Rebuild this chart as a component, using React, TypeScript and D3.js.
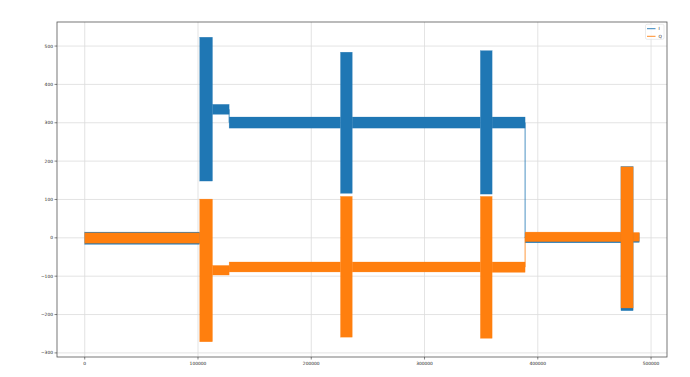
import React from 'react';
import * as d3 from 'd3';

// sample index where the signal changes regime
const breaks = [0, 101500, 112800, 127500, 225800, 236200, 349300, 359700, 388800, 473400, 484200, 489600];
// envelope (min / max) of I for each regime
const iLow = [-17, 148, 322, 286, 116, 286, 114, 286, -13, -190, -12];
const iHigh = [15, 523, 348, 315, 484, 315, 488, 315, 12, 186, 12];
// envelope (min / max) of Q for each regime
const qLow = [-14, -271, -97, -89, -259, -89, -262, -90, -10, -183, -9];
const qHigh = [13, 101, -72, -63, 108, -63, 108, -63, 15, 185, 14];

const xTicks = [0, 100000, 200000, 300000, 400000, 500000];
const yTicks = [-300, -200, -100, 0, 100, 200, 300, 400, 500];
const seriesNames = ['I', 'Q'];
const seriesColors = ['#1f77b4', '#ff7f0e'];

const W = 690, H = 377;
const L = 57, R = 667, T = 22, B = 357;

type Seg = { x0: number; x1: number; lo: number; hi: number };

function buildSegs(lo: number[], hi: number[]): Seg[] {
  return lo.map((v, i) => ({ x0: breaks[i], x1: breaks[i + 1], lo: v, hi: hi[i] }));
}

// vertical connectors where a quiet regime switches to another quiet regime
function connectors(lo: number[], hi: number[]) {
  const out: { x: number; a: number; b: number }[] = [];
  for (let k = 1; k < lo.length; k++) {
    const narrowPrev = hi[k - 1] - lo[k - 1] < 100;
    const narrowNext = hi[k] - lo[k] < 100;
    if (narrowPrev && narrowNext) {
      out.push({ x: breaks[k], a: (lo[k - 1] + hi[k - 1]) / 2, b: (lo[k] + hi[k]) / 2 });
    }
  }
  return out;
}

export default function App() {
  const xMin = 0, xMax = breaks[breaks.length - 1];
  const allLo = [...iLow, ...qLow], allHi = [...iHigh, ...qHigh];
  const yMin = d3.min(allLo)!, yMax = d3.max(allHi)!;
  const xm = (xMax - xMin) * 0.05, ym = (yMax - yMin) * 0.05;
  const x = d3.scaleLinear().domain([xMin - xm, xMax + xm]).range([L, R]);
  const y = d3.scaleLinear().domain([yMin - ym, yMax + ym]).range([B, T]);

  const series = [
    { segs: buildSegs(iLow, iHigh), con: connectors(iLow, iHigh) },
    { segs: buildSegs(qLow, qHigh), con: connectors(qLow, qHigh) },
  ];
  const font = 'DejaVu Sans, sans-serif';
  const fs = 4.4;

  return (
    <svg width={W} height={H} style={{ position: 'absolute', left: 0, top: 0, background: '#fff' }}>
      <rect x={0} y={0} width={W} height={H} fill="#fff" />
      <defs>
        <clipPath id="plot">
          <rect x={L} y={T} width={R - L} height={B - T} />
        </clipPath>
      </defs>
      {xTicks.map(t => (
        <line key={'gx' + t} x1={x(t)} x2={x(t)} y1={T} y2={B} stroke="#dcdcdc" strokeWidth={0.8} />
      ))}
      {yTicks.map(t => (
        <line key={'gy' + t} x1={L} x2={R} y1={y(t)} y2={y(t)} stroke="#dcdcdc" strokeWidth={0.8} />
      ))}
      <g clipPath="url(#plot)">
        {series.map((s, i) => (
          <g key={i}>
            {s.segs.map((d, j) => (
              <rect key={j} x={x(d.x0)} y={y(d.hi)} width={x(d.x1) - x(d.x0)} height={y(d.lo) - y(d.hi)}
                fill={seriesColors[i]} stroke={seriesColors[i]} strokeWidth={0.4} strokeOpacity={0.6} />
            ))}
            {s.con.map((c, j) => (
              <line key={j} x1={x(c.x)} x2={x(c.x)} y1={y(c.a)} y2={y(c.b)} stroke={seriesColors[i]} strokeWidth={0.8} />
            ))}
          </g>
        ))}
      </g>
      <rect x={L} y={T} width={R - L} height={B - T} fill="none" stroke="#555" strokeWidth={0.8} />
      {xTicks.map(t => (
        <g key={'tx' + t}>
          <line x1={x(t)} x2={x(t)} y1={B} y2={B + 2.5} stroke="#333" strokeWidth={0.6} />
          <text x={x(t)} y={B + 8} fontSize={fs} fontFamily={font} textAnchor="middle" fill="#222">{t}</text>
        </g>
      ))}
      {yTicks.map(t => (
        <g key={'ty' + t}>
          <line x1={L - 2.5} x2={L} y1={y(t)} y2={y(t)} stroke="#333" strokeWidth={0.6} />
          <text x={L - 4} y={y(t) + 1.6} fontSize={fs} fontFamily={font} textAnchor="end" fill="#222">
            {t < 0 ? '\u2212' + Math.abs(t) : t}
          </text>
        </g>
      ))}
      <g transform={`translate(${R - 21.5},${T + 2.3})`}>
        <rect x={0} y={0} width={18.5} height={15} rx={1.5} fill="#fff" fillOpacity={0.8} stroke="#ddd" strokeWidth={0.6} />
        {seriesNames.map((n, i) => (
          <g key={n} transform={`translate(0,${4.4 + i * 7.6})`}>
            <line x1={1.5} x2={10} y1={0} y2={0} stroke={seriesColors[i]} strokeWidth={0.9} />
            <text x={13} y={1.6} fontSize={fs} fontFamily={font} fill="#222">{n}</text>
          </g>
        ))}
      </g>
    </svg>
  );
}
